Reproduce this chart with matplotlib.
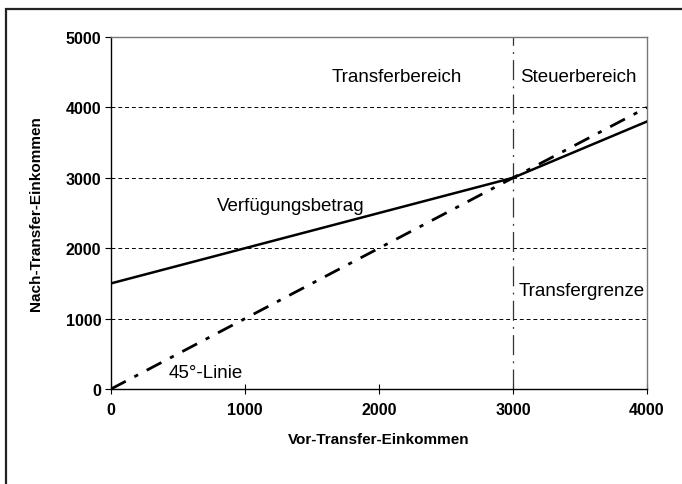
import matplotlib
matplotlib.use("Agg")
import matplotlib.pyplot as plt
from matplotlib.patches import Rectangle

plt.rcParams['font.family'] = ['Liberation Sans', 'DejaVu Sans']

x_income = [0, 3000, 4000]
verfuegung = [1500, 3000, 3800]
x_45 = [0, 4000]
linie45 = [0, 4000]
transfer_limit = 3000
xticks = [0, 1000, 2000, 3000, 4000]
yticks = [0, 1000, 2000, 3000, 4000, 5000]

fig = plt.figure(figsize=(6.82, 4.85), dpi=100)
ax = fig.add_axes([111/682, 95/485, 536/682, 352/485])

fig.patches.append(Rectangle((6/682, -0.1), 1.2, (485-10)/485 + 0.1, transform=fig.transFigure,
                             fill=False, edgecolor='#222222', linewidth=1.6, zorder=0))

for y in yticks[1:-1]:
    ax.plot([0, 4000], [y, y], color='black', linestyle=(0, (4, 3)), linewidth=0.7, zorder=1)

ax.plot([transfer_limit, transfer_limit], [0, 5000], color='#333333',
        linestyle=(0, (16, 5, 1.5, 5)), linewidth=0.9, zorder=2)
ax.plot(x_45, linie45, color='black', linestyle=(0, (6, 3.5, 1.5, 3.5)), linewidth=2.0, zorder=3)
ax.plot(x_income, verfuegung, color='black', linestyle='-', linewidth=1.8, zorder=4)

ax.set_xlim(0, 4000)
ax.set_ylim(0, 5000)
ax.set_xticks(xticks)
ax.set_yticks(yticks)
ax.tick_params(axis='x', direction='inout', length=7, width=0.8, pad=6, labelsize=11.5)
ax.tick_params(axis='y', direction='out', length=4, width=0.8, pad=3, labelsize=11.5)
for lbl in ax.get_xticklabels() + ax.get_yticklabels():
    lbl.set_fontweight('bold')

ax.spines['left'].set_color('black')
ax.spines['bottom'].set_color('black')
ax.spines['top'].set_color('#777777')
ax.spines['right'].set_color('#777777')
for s in ax.spines.values():
    s.set_linewidth(1.0)

ax.set_xlabel('Vor-Transfer-Einkommen', fontsize=11, fontweight='bold', labelpad=11)
ax.set_ylabel('Nach-Transfer-Einkommen', fontsize=11, fontweight='bold', labelpad=16)

ax.text(2134, 4446, 'Transferbereich', fontsize=13.5, ha='center', va='center')
ax.text(3485, 4446, 'Steuerbereich', fontsize=13.5, ha='center', va='center')
ax.text(1343, 2600, 'Verfügungsbetrag', fontsize=13.5, ha='center', va='center')
ax.text(3045, 1406, 'Transfergrenze', fontsize=13.5, ha='left', va='center')
ax.text(709, 241, '45°-Linie', fontsize=13.5, ha='center', va='center')

fig.savefig('out.png', dpi=100)
